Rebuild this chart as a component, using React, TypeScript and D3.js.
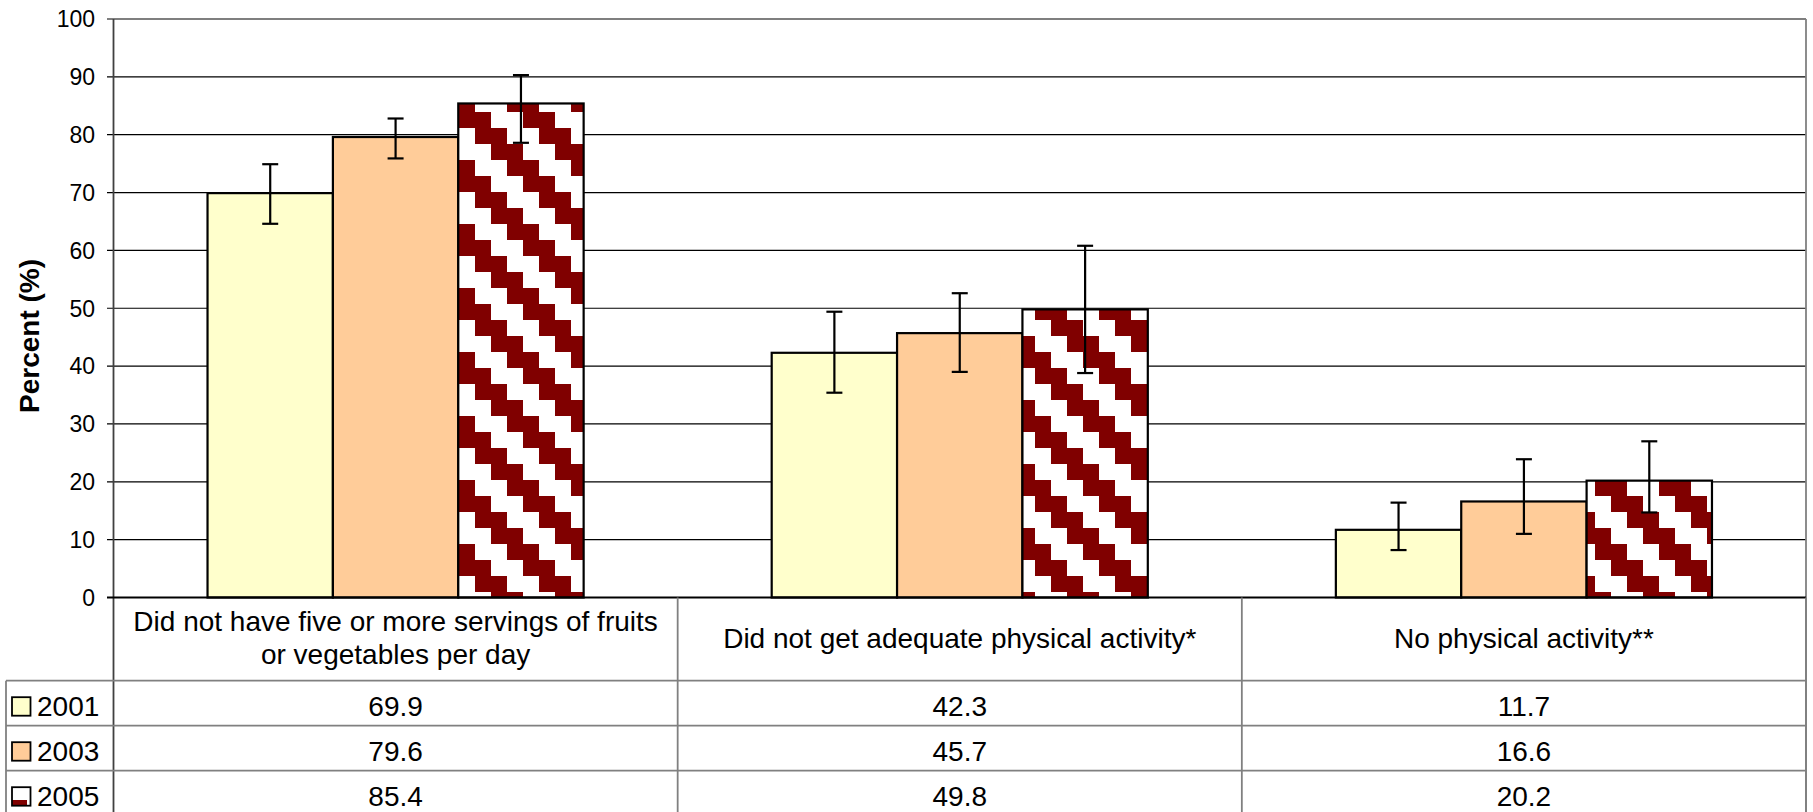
import React from "react";
import * as d3 from "d3";

const categories = [
  "Did not have five or more servings of fruits or vegetables per day",
  "Did not get adequate physical activity*",
  "No physical activity**",
];
// how each category label wraps in the table header row
const categoryLines = [
  ["Did not have five or more servings of fruits", "or vegetables per day"],
  ["Did not get adequate physical activity*"],
  ["No physical activity**"],
];
const years = ["2001", "2003", "2005"];
const values2001 = [69.9, 42.3, 11.7];
const values2003 = [79.6, 45.7, 16.6];
const values2005 = [85.4, 49.8, 20.2];
const lower2001 = [64.6, 35.4, 8.2];
const upper2001 = [74.9, 49.4, 16.4];
const lower2003 = [75.9, 39.0, 11.0];
const upper2003 = [82.8, 52.6, 23.9];
const lower2005 = [78.6, 38.8, 14.7];
const upper2005 = [90.3, 60.8, 27.0];
const yTicks = [0, 10, 20, 30, 40, 50, 60, 70, 80, 90, 100];

const series = [
  { year: years[0], values: values2001, lower: lower2001, upper: upper2001, fill: "#FFFFCC" },
  { year: years[1], values: values2003, lower: lower2003, upper: upper2003, fill: "#FFCC99" },
  { year: years[2], values: values2005, lower: lower2005, upper: upper2005, fill: "url(#stairs)" },
];

const W = 1813;
const H = 812;
const left = 113.5;
const right = 1806;
const top = 19;
const bottom = 597.5;
const tableLeft = 6;
const rowTops = [680.7, 725.7, 770.7, 815.7];
const font = "'Liberation Sans', Arial, sans-serif";
const tableLine = "#808080";

export default function App() {
  const x0 = d3.scaleBand<string>().domain(categories).range([left, right]);
  const x1 = d3
    .scaleBand<string>()
    .domain(years)
    .range([0, x0.bandwidth()])
    .paddingInner(0)
    .paddingOuter(0.75);
  const y = d3.scaleLinear().domain([0, 100]).range([bottom, top]);

  return (
    <div style={{ position: "absolute", left: 0, top: 0 }}>
      <svg width={W} height={H} style={{ display: "block", fontFamily: font }}>
        <defs>
          {/* maroon staircase fill, aligned to the page like the original */}
          <pattern id="stairs" patternUnits="userSpaceOnUse" x={27} y={0} width={64} height={64}>
            <rect width={64} height={64} fill="#fff" />
            {[0, 1, 2, 3].map((r) => (
              <g key={r}>
                <rect x={16 * r} y={16 * r} width={32} height={16} fill="#800000" />
                <rect x={16 * r - 64} y={16 * r} width={32} height={16} fill="#800000" />
              </g>
            ))}
          </pattern>
        </defs>
        <rect width={W} height={H} fill="#fff" />

        {/* gridlines */}
        {yTicks.map((t) => (
          <g key={t}>
            <line x1={left - 6.5} x2={right} y1={y(t)} y2={y(t)} stroke="#000" strokeWidth={1.2} />
            <text
              x={95}
              y={y(t)}
              dy="0.36em"
              textAnchor="end"
              fontSize={23}
              fill="#000"
            >
              {t}
            </text>
          </g>
        ))}

        {/* bars */}
        {series.map((s) =>
          categories.map((c, i) => (
            <rect
              key={s.year + c}
              x={(x0(c) ?? 0) + (x1(s.year) ?? 0)}
              y={y(s.values[i])}
              width={x1.bandwidth()}
              height={y(0) - y(s.values[i])}
              fill={s.fill}
              stroke="#000"
              strokeWidth={2.2}
            />
          ))
        )}

        {/* error bars */}
        {series.map((s) =>
          categories.map((c, i) => {
            const cx = (x0(c) ?? 0) + (x1(s.year) ?? 0) + x1.bandwidth() / 2;
            return (
              <g key={"e" + s.year + c} stroke="#000" strokeWidth={2.2}>
                <line x1={cx} x2={cx} y1={y(s.upper[i])} y2={y(s.lower[i])} />
                <line x1={cx - 8} x2={cx + 8} y1={y(s.upper[i])} y2={y(s.upper[i])} />
                <line x1={cx - 8} x2={cx + 8} y1={y(s.lower[i])} y2={y(s.lower[i])} />
              </g>
            );
          })
        )}

        {/* axis line and plot border */}
        <line x1={left} x2={left} y1={top} y2={H} stroke="#404040" strokeWidth={1.8} />
        <line x1={right} x2={right} y1={top} y2={H} stroke={tableLine} strokeWidth={1.8} />
        <line x1={left - 6.5} x2={right} y1={bottom} y2={bottom} stroke="#000" strokeWidth={1.8} />

        {/* y axis title */}
        <text
          transform={`translate(39,336) rotate(-90)`}
          textAnchor="middle"
          fontSize={28}
          fontWeight="bold"
          fill="#000"
        >
          Percent (%)
        </text>

        {/* data table */}
        {categories.map((c, i) => (
          <line
            key={"v" + c}
            x1={(x0(c) ?? 0) + x0.bandwidth()}
            x2={(x0(c) ?? 0) + x0.bandwidth()}
            y1={bottom}
            y2={H}
            stroke={tableLine}
            strokeWidth={1.8}
          />
        ))}
        <line x1={tableLeft} x2={tableLeft} y1={rowTops[0]} y2={H} stroke={tableLine} strokeWidth={1.8} />
        {rowTops.map((ry) => (
          <line key={ry} x1={tableLeft} x2={right} y1={ry} y2={ry} stroke={tableLine} strokeWidth={1.8} />
        ))}

        {categoryLines.map((lines, i) => {
          const cx = (x0(categories[i]) ?? 0) + x0.bandwidth() / 2;
          const base = lines.length === 2 ? 630.7 : 648;
          return (
            <text key={"c" + i} textAnchor="middle" fontSize={28} fill="#000">
              {lines.map((l, k) => (
                <tspan key={k} x={cx} y={base + k * 33.3}>
                  {l}
                </tspan>
              ))}
            </text>
          );
        })}

        {series.map((s, r) => {
          const ry = rowTops[r];
          return (
            <g key={"row" + s.year}>
              <rect
                x={12}
                y={ry + 16.5}
                width={18.5}
                height={18.5}
                fill={s.fill}
                stroke="#000"
                strokeWidth={1.8}
              />
              <text x={37} y={ry + 35.3} fontSize={28} fill="#000">
                {s.year}
              </text>
              {categories.map((c, i) => (
                <text
                  key={c}
                  x={(x0(c) ?? 0) + x0.bandwidth() / 2}
                  y={ry + 35.3}
                  textAnchor="middle"
                  fontSize={28}
                  fill="#000"
                >
                  {s.values[i].toFixed(1)}
                </text>
              ))}
            </g>
          );
        })}
      </svg>
    </div>
  );
}
